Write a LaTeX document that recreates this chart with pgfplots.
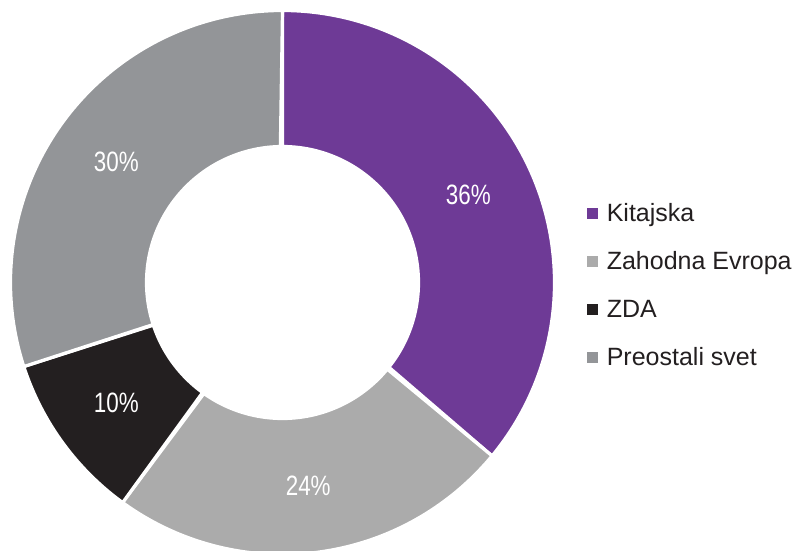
\documentclass[border=0pt]{standalone}
\usepackage{pgfplots}
\pgfplotsset{compat=1.18}
\usepackage{pgfplotstable}
\usepackage{fontspec}
\setmainfont{Liberation Sans}
\newfontfamily\labfont[FakeStretch=0.8]{Liberation Sans}
\newcommand\labstyle{\labfont\fontsize{28}{32}\selectfont}
\definecolor{c0}{HTML}{6E3A96}
\definecolor{c1}{HTML}{ABABAB}
\definecolor{c2}{HTML}{231F20}
\definecolor{c3}{HTML}{939598}
\definecolor{txt}{HTML}{231F20}

\pgfplotstableread{
value
36
24
10
30
}\piedata

\def\rin{0.5}
\def\rlab{0.755}
\xdef\acc{90}
\pgfplotstableforeachcolumnelement{value}\of\piedata\as\v{%
  \pgfmathsetmacro\nxt{\acc-3.6*\v}%
  \expandafter\xdef\csname s\pgfplotstablerow\endcsname{\acc}%
  \expandafter\xdef\csname e\pgfplotstablerow\endcsname{\nxt}%
  \expandafter\xdef\csname p\pgfplotstablerow\endcsname{\v}%
  \xdef\acc{\nxt}%
}

\begin{document}
\begin{tikzpicture}
\begin{axis}[
  hide axis, scale only axis, clip bounding box=upper bound,
  width=806pt, height=551pt,
  xmin=-1.0386, xmax=1.9246, ymin=-0.9871, ymax=1.0386,
  legend entries={Kitajska, Zahodna Evropa, ZDA, Preostali svet},
  legend cell align=left,
  legend style={at={(axis cs:1.118,-0.01)}, anchor=west, draw=none, fill=none,
    font=\fontsize{25}{30}\selectfont, text=txt, row sep=24.6pt, inner sep=0pt},
  legend image code/.code={\fill[#1,draw=none] (0pt,-5.5pt) rectangle (11pt,5.5pt);
     \path[draw=none,fill=none] (0pt,0pt) -- (18pt,0pt);},
]
\pgfplotsinvokeforeach{0,...,3}{%
  \edef\S{\csname s#1\endcsname}\edef\E{\csname e#1\endcsname}%
  \edef\doplot{\noexpand\addplot[fill=c#1, draw=white, line width=3.2pt, line join=round,
     variable=\noexpand\t, domain=0:2, samples=241]
   ({(\noexpand\t<1.004 ? 1 : \rin)*cos(\noexpand\t<1.004 ? ((\S)+min(\noexpand\t,1)*((\E)-(\S))) : ((\E)-(\noexpand\t-1)*((\E)-(\S))))},
    {(\noexpand\t<1.004 ? 1 : \rin)*sin(\noexpand\t<1.004 ? ((\S)+min(\noexpand\t,1)*((\E)-(\S))) : ((\E)-(\noexpand\t-1)*((\E)-(\S))))}) -- cycle;}%
  \doplot
}
\pgfplotsinvokeforeach{0,...,3}{%
  \pgfmathsetmacro\m{((\csname s#1\endcsname)+(\csname e#1\endcsname))/2}%
  \pgfmathsetmacro\lx{\rlab*cos(\m)}%
  \pgfmathsetmacro\ly{\rlab*sin(\m)}%
  \edef\donode{\noexpand\node[text=white, font=\noexpand\labstyle] at (axis cs:\lx,\ly) {\csname p#1\endcsname\noexpand\%};}%
  \donode
}
\path[draw=none] (rel axis cs:0,0) rectangle (rel axis cs:1,1);
\end{axis}
\end{tikzpicture}
\end{document}
